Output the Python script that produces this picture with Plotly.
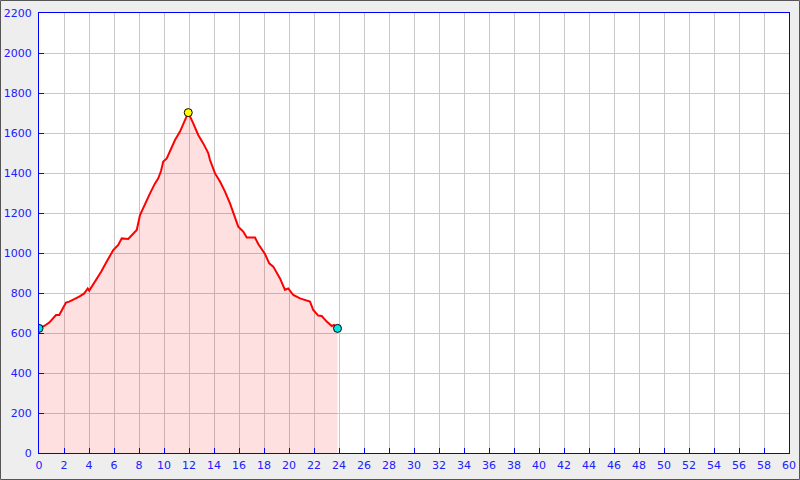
import plotly.graph_objects as go

hours = [0.0, 0.42, 0.82, 1.1, 1.36, 1.62, 1.9, 2.16, 2.42, 2.82, 3.22, 3.62, 3.9, 4.02, 4.3, 4.7,
         4.96, 5.42, 5.94, 6.34, 6.62, 7.14, 7.42, 7.82, 8.08, 8.48, 8.88, 9.28, 9.54, 9.76,
         9.94, 10.22, 10.62, 10.88, 11.28, 11.68, 11.94, 12.34, 12.74, 13.14, 13.54,
         13.68, 14.08, 14.48, 14.88, 15.28, 15.68, 15.94, 16.34, 16.62, 17.28, 17.54, 18.08,
         18.42, 18.74, 19.28, 19.68, 19.94, 20.34, 20.88, 21.68, 21.94, 22.34, 22.62, 23.02,
         23.42, 23.6, 23.88]
values = [623, 635, 652, 673, 690, 690, 723, 752, 757, 768, 782, 798, 823, 812, 840, 873,
          905, 957, 1015, 1040, 1073, 1070, 1090, 1115, 1190, 1248, 1298, 1348, 1373, 1410,
          1457, 1473, 1532, 1565, 1607, 1665, 1702, 1648, 1590, 1548, 1500,
          1465, 1398, 1357, 1307, 1248, 1182, 1132, 1107, 1078, 1077, 1045, 995,
          948, 932, 873, 815, 823, 790, 773, 757, 715, 687, 685, 657,
          635, 640, 623]

x_ticks = list(range(0, 61, 2))
y_ticks = list(range(0, 2201, 200))

peak_i = values.index(max(values))

BLUE = "#0000ff"
LBL = "#2020ff"

fig = go.Figure()
fig.add_trace(go.Scatter(
    x=hours, y=values, mode="lines",
    line=dict(color="#ff0000", width=2),
    fill="tozeroy", fillcolor="rgba(255,0,0,0.12)",
    hoverinfo="skip", showlegend=False))
fig.add_trace(go.Scatter(
    x=[hours[0], hours[-1]], y=[values[0], values[-1]], mode="markers",
    marker=dict(color="#00e5e5", size=8, line=dict(color="#000000", width=1)),
    showlegend=False))
fig.add_trace(go.Scatter(
    x=[hours[peak_i]], y=[values[peak_i]], mode="markers",
    marker=dict(color="#ffff00", size=8, line=dict(color="#000000", width=1)),
    showlegend=False))

axis_common = dict(
    showline=True, linecolor=BLUE, linewidth=1, mirror=True,
    ticks="inside", ticklen=5, tickcolor=BLUE, tickwidth=1,
    gridcolor="#c8c8c8", gridwidth=1, zeroline=False, automargin=False,
    tickfont=dict(family="DejaVu Sans", size=11, color=LBL),
)

fig.update_layout(
    width=800, height=480,
    margin=dict(l=39, r=11, t=13, b=27, autoexpand=False),
    paper_bgcolor="#eeeeee", plot_bgcolor="#ffffff",
    xaxis=dict(range=[0, 60], tickvals=x_ticks, ticktext=[str(v) for v in x_ticks],
               ticklabelstandoff=2, **axis_common),
    yaxis=dict(range=[0, 2200], tickvals=y_ticks, ticktext=[str(v) for v in y_ticks],
               ticklabelstandoff=4, **axis_common),
    shapes=[dict(type="rect", xref="paper", yref="paper",
                 x0=-39/750 + 0.5/750, x1=1 + 10.5/750, y0=-27/440 + 0.5/440, y1=1 + 12.5/440,
                 line=dict(color="#555555", width=1), fillcolor="rgba(0,0,0,0)", layer="below")],
)

fig.write_html("out.html", config={"displayModeBar": False},
               post_script="document.body.style.margin='0';document.body.style.overflow='hidden';")
